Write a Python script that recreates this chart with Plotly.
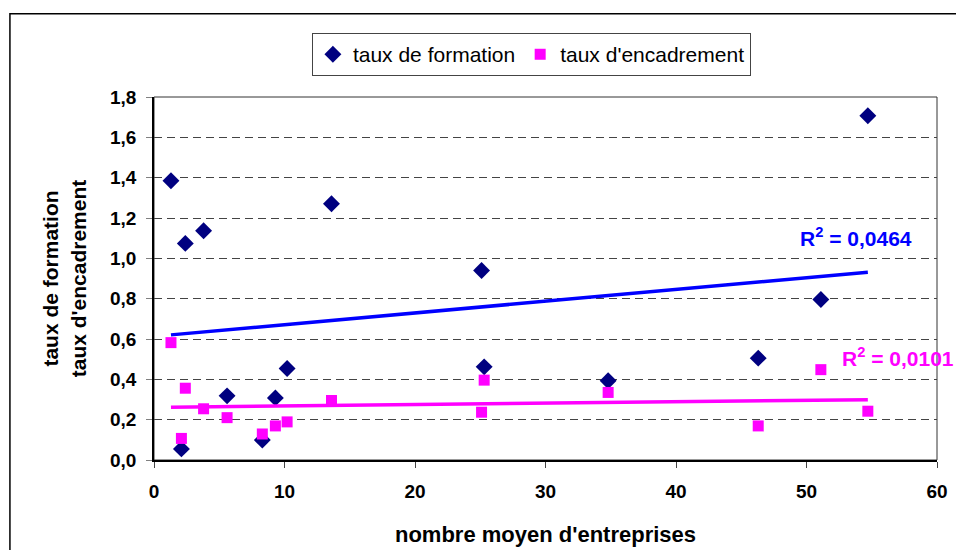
import plotly.graph_objects as go
import numpy as np

# nombre moyen d'entreprises (shared by both series)
nb_entreprises = [1.3, 2.1, 2.4, 3.8, 5.6, 8.3, 9.3, 10.2, 13.6, 25.1, 25.3, 34.8, 46.3, 51.1, 54.7]
taux_formation = [1.385, 0.055, 1.074, 1.137, 0.318, 0.099, 0.308, 0.454, 1.271, 0.940, 0.462, 0.393, 0.505, 0.796, 1.707]
taux_encadrement = [0.582, 0.107, 0.356, 0.254, 0.210, 0.129, 0.169, 0.189, 0.295, 0.237, 0.396, 0.335, 0.169, 0.448, 0.242]

r2_formation = "R<sup>2</sup> = 0,0464"
r2_encadrement = "R<sup>2</sup> = 0,0101"

FONT = "Arial, 'Liberation Sans', sans-serif"

x = np.array(nb_entreprises)
x_line = np.array([x.min(), x.max()])

fig = go.Figure()

fig.add_trace(go.Scatter(
    x=nb_entreprises, y=taux_formation, mode='markers', name='taux de formation',
    marker=dict(symbol='diamond', size=13, color='#000080', line=dict(width=0))
))
fig.add_trace(go.Scatter(
    x=nb_entreprises, y=taux_encadrement, mode='markers', name="taux d'encadrement",
    marker=dict(symbol='square', size=11, color='#FF00FF', line=dict(width=0))
))

# droites de tendance (moindres carres)
for ys, col in [(taux_formation, '#0000FF'), (taux_encadrement, '#FF00FF')]:
    a, b = np.polyfit(x, np.array(ys), 1)
    fig.add_trace(go.Scatter(
        x=x_line, y=a * x_line + b, mode='lines', showlegend=False,
        line=dict(color=col, width=3.5), hoverinfo='skip'
    ))

fig.add_annotation(x=49.35, y=1.105, xref='x', yref='y', text=r2_formation,
                   showarrow=False, xanchor='left', yanchor='middle',
                   font=dict(family=FONT, size=21, color='#0000FF', weight='bold'))
fig.add_annotation(x=52.6, y=0.509, xref='x', yref='y', text=r2_encadrement,
                   showarrow=False, xanchor='left', yanchor='middle',
                   font=dict(family=FONT, size=21, color='#FF00FF', weight='bold'))

# cadre du graphique et de la zone de tracé
fig.add_shape(type='rect', xref='paper', yref='paper', x0=-0.184, x1=1.03, y0=-0.27, y1=1.229,
              line=dict(color='black', width=1.5), layer='below')
fig.add_shape(type='rect', xref='paper', yref='paper', x0=0, x1=1, y0=0, y1=1,
              line=dict(color='#333333', width=1), layer='below')

fig.update_layout(
    width=956, height=550,
    margin=dict(l=154, r=19, t=97, b=90),
    paper_bgcolor='white', plot_bgcolor='white',
    separators=', ',
    font=dict(family=FONT, color='black'),
    showlegend=True,
    legend=dict(
        orientation='h', x=0.482, y=1.176, xanchor='center', yanchor='top',
        bordercolor='#444444', borderwidth=1, bgcolor='white',
        font=dict(family=FONT, size=21), itemwidth=30, tracegroupgap=0
    ),
    xaxis=dict(
        range=[0, 60], dtick=10, tick0=0, showgrid=False, zeroline=False,
        showline=True, linecolor='black', linewidth=2, automargin=False,
        ticks='outside', ticklen=6, tickcolor='#444444', tickwidth=1,
        ticklabelstandoff=7,
        tickfont=dict(family=FONT, size=19, weight='bold'),
        title=dict(text="nombre moyen d'entreprises", standoff=26,
                   font=dict(family=FONT, size=22, weight='bold'))
    ),
    yaxis=dict(
        range=[0, 1.8], dtick=0.2, tick0=0, tickformat='.1f',
        showgrid=True, gridcolor='#444444', gridwidth=1, griddash='8px,5px',
        zeroline=False, showline=True, linecolor='black', linewidth=1.5, automargin=False,
        ticks='outside', ticklen=6, tickcolor='#808080', tickwidth=1,
        ticklabelstandoff=6,
        tickfont=dict(family=FONT, size=19, weight='bold'),
        title=dict(text="taux de formation<br>taux d'encadrement", standoff=18,
                   font=dict(family=FONT, size=21, weight='bold'))
    ),
)

fig.write_html("out.html", config={'displayModeBar': False},
               post_script="document.body.style.margin='0px';document.body.style.overflow='hidden';")
